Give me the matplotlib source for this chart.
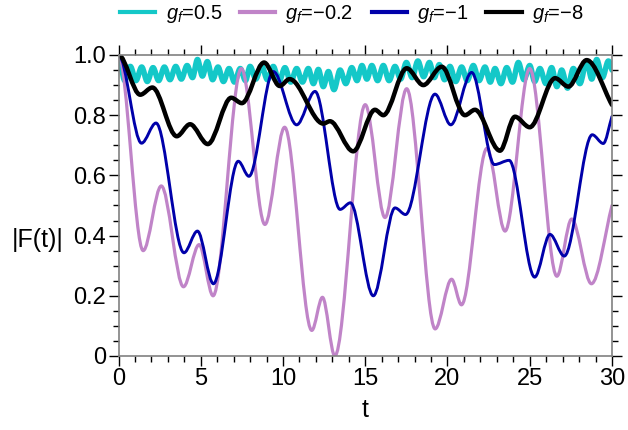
"""
Loschmidt echo |F(t)| for several quench values g_f
"""

import numpy as np
import matplotlib
matplotlib.use("Agg")
import matplotlib.pyplot as plt
from matplotlib.path import Path
from matplotlib.patches import PathPatch
from matplotlib.lines import Line2D
from matplotlib.ticker import MultipleLocator

# --- data (turning points of each curve) ---
t_cyan = [0.0, 0.38, 0.72, 1.06, 1.41, 1.75, 2.10, 2.44, 2.79, 3.13, 3.48, 3.82,
          4.17, 4.50, 4.80, 5.10, 5.40, 5.72, 6.05, 6.38, 6.72, 7.05, 7.40, 7.72,
          8.00, 8.35, 8.70, 9.05, 9.41, 9.76, 10.12, 10.47, 10.83, 11.18, 11.54,
          11.85, 12.15, 12.45, 12.76, 13.10, 13.47, 13.82, 14.18, 14.50, 14.80,
          15.10, 15.40, 15.75, 16.10, 16.45, 16.81, 17.15, 17.50, 17.85, 18.20,
          18.55, 18.90, 19.20, 19.50, 19.82, 20.15, 20.50, 20.86, 21.20, 21.57,
          21.92, 22.28, 22.60, 22.89, 23.25, 23.60, 23.95, 24.31, 24.65, 25.00,
          25.30, 25.62, 25.98, 26.33, 26.65, 26.94, 27.30, 27.65, 28.05, 28.46,
          28.77, 29.07, 29.42, 29.78, 30.0]
y_cyan = [1.0, 0.915, 0.962, 0.915, 0.960, 0.912, 0.958, 0.915, 0.960, 0.918, 0.962, 0.920,
          0.965, 0.925, 0.985, 0.930, 0.978, 0.918, 0.960, 0.912, 0.955, 0.910, 0.955, 0.915,
          0.962, 0.920, 0.965, 0.918, 0.962, 0.912, 0.958, 0.910, 0.955, 0.910, 0.955,
          0.905, 0.952, 0.895, 0.945, 0.885, 0.950, 0.905, 0.958, 0.915, 0.965,
          0.920, 0.965, 0.915, 0.965, 0.915, 0.962, 0.920, 0.975, 0.925, 0.980,
          0.928, 0.975, 0.925, 0.968, 0.918, 0.962, 0.912, 0.960, 0.915, 0.965,
          0.915, 0.960, 0.910, 0.955, 0.905, 0.958, 0.910, 0.975, 0.918, 0.965,
          0.912, 0.955, 0.905, 0.958, 0.895, 0.950, 0.890, 0.955, 0.905, 0.980,
          0.920, 0.985, 0.925, 0.980, 0.950]

t_purple = [0.0, 1.5, 2.6, 3.95, 4.9, 5.75, 7.47, 8.9, 10.1, 11.75, 12.4, 13.15,
            15.0, 16.2, 17.52, 19.25, 20.25, 20.85, 22.4, 23.5, 25.0, 26.65,
            27.55, 28.75, 30.0]
y_purple = [1.0, 0.35, 0.565, 0.23, 0.37, 0.20, 0.955, 0.437, 0.76, 0.085, 0.195, 0.0,
            0.835, 0.46, 0.888, 0.09, 0.255, 0.17, 0.69, 0.415, 0.955, 0.265,
            0.455, 0.24, 0.50]

t_blue = [0.0, 1.4, 2.28, 3.98, 4.8, 5.77, 7.28, 7.93, 9.41, 10.83, 11.95, 13.47,
          14.1, 15.49, 16.81, 17.45, 19.24, 20.2, 21.47, 22.85, 23.75, 25.3,
          26.23, 27.1, 28.8, 29.47, 30.0]
y_blue = [1.0, 0.707, 0.774, 0.343, 0.415, 0.24, 0.647, 0.597, 0.945, 0.768, 0.879, 0.487,
          0.509, 0.20, 0.492, 0.47, 0.87, 0.768, 0.942, 0.636, 0.65, 0.262,
          0.404, 0.332, 0.735, 0.706, 0.796]

t_black = [0.0, 1.32, 2.06, 3.54, 4.35, 5.43, 6.85, 7.5, 8.85, 9.8, 10.4, 12.45,
           12.85, 14.27, 15.59, 16.1, 17.52, 18.53, 19.65, 21.06, 21.67, 23.19,
           24.1, 25.0, 26.54, 27.35, 28.46, 30.0]
y_black = [1.0, 0.868, 0.892, 0.73, 0.77, 0.704, 0.858, 0.84, 0.975, 0.897, 0.92, 0.772,
           0.78, 0.68, 0.818, 0.80, 0.956, 0.90, 0.961, 0.80, 0.818, 0.682,
           0.795, 0.76, 0.923, 0.895, 0.983, 0.834]

labels = ["$g_f$=0.5", "$g_f$=\u22120.2", "$g_f$=\u22121", "$g_f$=\u22128"]
colors = ["#14C8C8", "#C084C8", "#0000AA", "#000000"]
widths = [4.0, 2.3, 2.1, 3.2]

x_ticks = [0, 5, 10, 15, 20, 25, 30]
y_ticks = [0, 0.2, 0.4, 0.6, 0.8, 1.0]
y_tick_labels = ["0", "0.2", "0.4", "0.6", "0.8", "1.0"]


def smooth_path(ts, ys):
    # cubic Bezier through the read points, monotone tangents (flat at turning points)
    t = np.asarray(ts, float)
    y = np.asarray(ys, float)
    h = np.diff(t)
    d = np.diff(y) / h
    m = np.zeros_like(y)
    for i in range(1, len(y) - 1):
        if d[i - 1] * d[i] > 0:
            w1 = 2 * h[i] + h[i - 1]
            w2 = h[i] + 2 * h[i - 1]
            m[i] = (w1 + w2) / (w1 / d[i - 1] + w2 / d[i])
    m[-1] = d[-1]
    verts = [(t[0], y[0])]
    codes = [Path.MOVETO]
    for i in range(len(h)):
        verts += [(t[i] + h[i] / 3, y[i] + m[i] * h[i] / 3),
                  (t[i + 1] - h[i] / 3, y[i + 1] - m[i + 1] * h[i] / 3),
                  (t[i + 1], y[i + 1])]
        codes += [Path.CURVE4] * 3
    return Path(verts, codes)


plt.rcParams["font.family"] = ["Liberation Sans", "DejaVu Sans"]
plt.rcParams["mathtext.fontset"] = "custom"
plt.rcParams["mathtext.it"] = "Liberation Sans:italic"
plt.rcParams["mathtext.rm"] = "Liberation Sans"

fig = plt.figure(figsize=(6.28, 4.30), dpi=100)
ax = fig.add_axes([0.1887, 0.1721, 0.7858, 0.70])

series = [(t_cyan, y_cyan), (t_purple, y_purple), (t_blue, y_blue), (t_black, y_black)]
handles = []
for (ts, ys), c, lw, lab in zip(series, colors, widths, labels):
    ax.add_patch(PathPatch(smooth_path(ts, ys), fill=False, edgecolor=c, lw=lw,
                           joinstyle="round", capstyle="round"))
    handles.append(Line2D([], [], color=c, lw=3.0))

ax.set_xlim(0, 30)
ax.set_ylim(0, 1)
ax.set_xticks(x_ticks)
ax.set_yticks(y_ticks)
ax.set_yticklabels(y_tick_labels)
ax.xaxis.set_minor_locator(MultipleLocator(1))
ax.yaxis.set_minor_locator(MultipleLocator(0.05))
ax.tick_params(which="both", direction="out", top=True, right=True,
               labelsize=17, color="black", width=1.0, pad=2)
ax.tick_params(which="major", length=7)
ax.tick_params(which="minor", length=4)
for s in ax.spines.values():
    s.set_color("#808080")
    s.set_linewidth(1.2)

ax.set_xlabel("t", fontsize=18)
ax.xaxis.set_label_coords(0.5, -0.14)
ax.set_ylabel("|F(t)|", fontsize=18, rotation=0, ha="center", va="center")
ax.yaxis.set_label_coords(-0.163, 0.385)

fig.legend(handles, labels, loc="center", bbox_to_anchor=(0.56, 0.968), ncol=4,
           frameon=False, fontsize=14.5, handlelength=1.75, handletextpad=0.5,
           columnspacing=0.9)

fig.savefig("out.png", dpi=100)
